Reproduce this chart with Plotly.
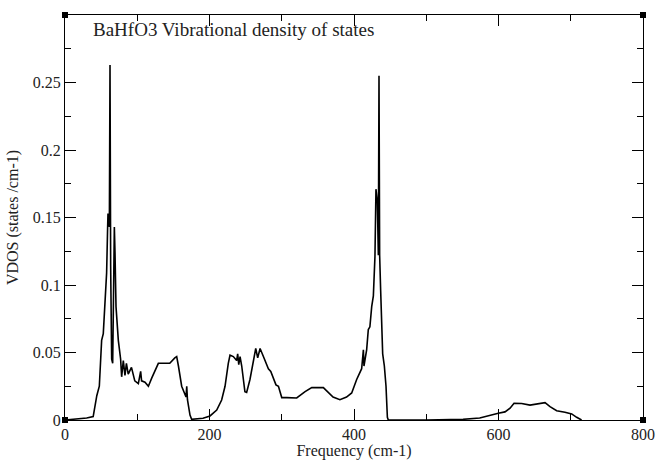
import plotly.graph_objects as go

title_text = "BaHfO3 Vibrational density of states"
x_title = "Frequency (cm-1)"
y_title = "VDOS (states /cm-1)"

freq = [0, 10, 20, 30, 39, 41.5, 44, 47.5, 50.7, 53, 55.4, 57.6, 59, 59.5, 61.4, 62.3, 63.2,
        64.6, 66, 68.3, 69.2, 70.6, 73.8, 77, 78.4, 80.7, 83, 85, 87.5, 92, 96.6, 101.5, 104.7,
        106, 110.7, 115.4, 120, 124.6, 129.2, 135, 145, 152, 154.6, 157, 161.5, 167.5, 168.5,
        169.5, 173, 175.3, 191, 200.7, 210, 216.8, 221.5, 226, 228.4, 233, 237.6, 239, 240.5,
        242.3, 244.6, 249, 251.4, 256, 260.6, 264, 266.7, 270, 274.6, 281.5, 284.8, 288.5, 292,
        295.4, 297.7, 300, 307, 320.7, 332.3, 341.5, 357.6, 371, 380.5, 389.7, 396.8, 403.7,
        410.6, 413, 413.8, 417.5, 419.8, 422, 424.5, 426.8, 429, 430.4, 432.3, 433.7, 434.6,
        435.5, 436.9, 439.7, 442, 444.3, 446.2, 447.5, 500, 551, 574, 583.6, 599.7, 609, 616,
        621.5, 632, 643.6, 655, 664.4, 671.3, 680.5, 692, 701.3, 708.2, 715]
vdos = [0, 0.0004, 0.0008, 0.0015, 0.0025, 0.012, 0.018, 0.025, 0.059, 0.064, 0.084, 0.109,
        0.143, 0.153, 0.143, 0.263, 0.114, 0.045, 0.042, 0.143, 0.124, 0.084, 0.059, 0.045,
        0.032, 0.044, 0.033, 0.042, 0.034, 0.039, 0.029, 0.027, 0.036, 0.029, 0.028, 0.025,
        0.031, 0.037, 0.042, 0.042, 0.042, 0.046, 0.047, 0.040, 0.025, 0.017, 0.025, 0.015,
        0.0037, 0.0005, 0.0013, 0.003, 0.0074, 0.0148, 0.025, 0.042, 0.048, 0.047, 0.044,
        0.049, 0.041, 0.047, 0.040, 0.021, 0.0205, 0.030, 0.042, 0.053, 0.046, 0.053, 0.047,
        0.038, 0.036, 0.030, 0.026, 0.025, 0.020, 0.0166, 0.0166, 0.0163, 0.021, 0.024, 0.024,
        0.017, 0.015, 0.017, 0.020, 0.030, 0.038, 0.052, 0.040, 0.052, 0.067, 0.069, 0.084,
        0.092, 0.121, 0.171, 0.162, 0.122, 0.255, 0.122, 0.096, 0.049, 0.040, 0.025, 0.002,
        0, 0, 0.0005, 0.0015, 0.003, 0.005, 0.006, 0.0087, 0.0124, 0.0122, 0.011, 0.012,
        0.0128, 0.0099, 0.0069, 0.0057, 0.0045, 0.002, 0]

x_range = [0, 800]
y_range = [0, 0.3]
x_ticks = [0, 200, 400, 600, 800]
y_ticks = [0, 0.05, 0.1, 0.15, 0.2, 0.25]
y_ticklabels = ["0", "0.05", "0.1", "0.15", "0.2", "0.25"]

FONT = "Liberation Serif"

fig = go.Figure()
fig.add_trace(go.Scatter(x=freq, y=vdos, mode="lines",
                         line=dict(color="black", width=1.6), showlegend=False))
# corner squares (xmgrace style)
fig.add_trace(go.Scatter(x=[x_range[0], x_range[1], x_range[0], x_range[1]],
                         y=[y_range[0], y_range[0], y_range[1], y_range[1]],
                         mode="markers", marker=dict(symbol="square", size=6, color="black"),
                         cliponaxis=False, showlegend=False, hoverinfo="skip"))

axis_common = dict(showgrid=False, zeroline=False, showline=True, linecolor="black",
                   linewidth=1, mirror="allticks", ticks="inside", ticklen=11,
                   tickcolor="black", tickwidth=1, automargin=False,
                   tickfont=dict(family=FONT, size=16, color="#222"))

fig.update_xaxes(range=x_range, tickvals=x_ticks,
                 minor=dict(dtick=100, ticks="inside", ticklen=6, tickcolor="black"),
                 title=dict(text=x_title, font=dict(family=FONT, size=16, color="#222"),
                            standoff=0),
                 **axis_common)
fig.update_yaxes(range=y_range, tickvals=y_ticks, ticktext=y_ticklabels,
                 minor=dict(dtick=0.025, ticks="inside", ticklen=6, tickcolor="black"),
                 title=dict(text=y_title, font=dict(family=FONT, size=16, color="#222"),
                            standoff=10),
                 **axis_common)

fig.add_annotation(text=title_text, xref="paper", yref="paper", x=0.045, y=0.995,
                   xanchor="left", yanchor="top", showarrow=False,
                   font=dict(family=FONT, size=19, color="#222"))

fig.update_layout(width=657, height=460, margin=dict(l=65, r=14, t=15, b=40),
                  paper_bgcolor="white", plot_bgcolor="white",
                  font=dict(family=FONT, color="#222"))

fig.write_html("out.html")
